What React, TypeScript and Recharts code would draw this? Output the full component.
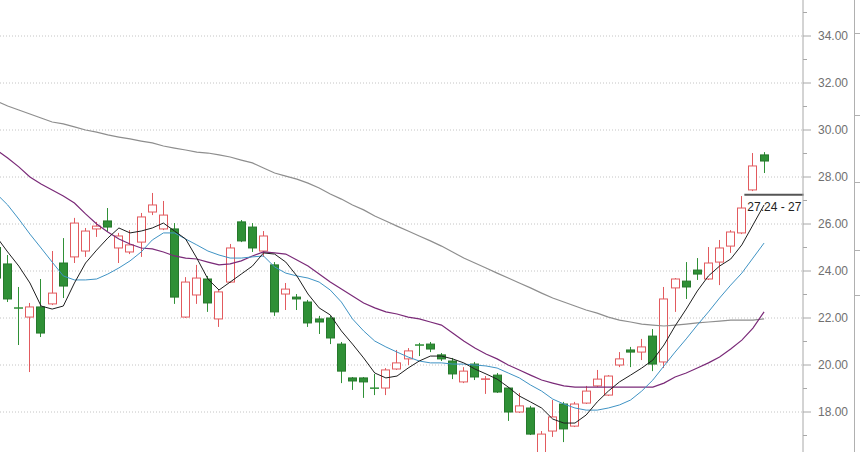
import React from "react";
import { ComposedChart, Bar, Line, XAxis, YAxis, CartesianGrid, ReferenceLine } from "recharts";

// first entry = partially hidden session at the left edge
const opens = [25.0, 24.30, 22.45, 22.04, 22.47, 22.60, 24.34, 24.60, 24.85, 25.79, 26.13, 24.98, 24.81, 25.23, 26.51, 25.79, 25.79, 22.04, 22.98, 23.66, 21.96, 23.53, 26.09, 25.87, 24.85, 24.26, 23.02, 22.89, 22.68, 21.96, 22.00, 20.89, 19.45, 19.45, 19.03, 19.02, 19.83, 20.26, 20.87, 20.89, 20.43, 20.17, 19.28, 20.04, 19.38, 19.57, 19.02, 18.00, 18.17, 16.10, 17.19, 18.34, 17.40, 18.38, 19.11, 18.72, 20.00, 20.64, 20.55, 21.23, 20.13, 23.28, 23.57, 24.04, 23.66, 24.38, 25.06, 25.62, 27.45, 28.94];
const highs = [25.2, 24.68, 23.32, 22.64, 23.66, 24.85, 25.40, 26.26, 25.83, 26.09, 26.68, 25.62, 25.74, 26.47, 27.32, 26.98, 26.04, 23.74, 24.26, 23.79, 23.19, 25.15, 26.17, 26.04, 25.70, 24.38, 23.49, 23.02, 22.77, 22.09, 22.09, 20.98, 19.49, 19.49, 19.62, 19.87, 20.64, 20.72, 20.94, 20.98, 20.51, 20.30, 19.91, 20.13, 19.53, 19.66, 19.06, 18.81, 18.26, 17.19, 18.51, 18.43, 18.43, 19.11, 19.79, 19.57, 20.55, 20.77, 21.11, 21.53, 23.32, 23.70, 24.38, 24.55, 25.02, 25.32, 25.74, 27.19, 29.02, 29.06];
const lows = [23.5, 22.68, 20.85, 19.70, 21.19, 22.55, 22.85, 24.34, 24.60, 25.45, 25.66, 24.34, 24.72, 24.60, 26.38, 25.74, 22.60, 22.00, 22.60, 22.26, 21.62, 23.49, 25.23, 24.81, 24.60, 22.09, 22.34, 22.34, 21.62, 21.32, 20.89, 19.23, 18.94, 18.60, 18.72, 18.72, 19.79, 20.00, 20.38, 20.55, 20.17, 19.40, 19.23, 19.36, 18.77, 18.81, 17.62, 17.96, 17.02, 15.90, 16.94, 16.72, 17.36, 18.34, 19.06, 18.68, 19.91, 19.91, 20.21, 19.74, 19.87, 22.26, 22.81, 23.62, 23.62, 23.40, 24.77, 25.57, 27.40, 28.17];
const closes = [23.7, 22.81, 22.40, 22.47, 21.36, 23.06, 23.36, 26.04, 25.70, 25.91, 25.87, 25.49, 25.11, 26.30, 26.81, 26.38, 22.89, 23.53, 23.70, 22.64, 23.11, 24.98, 25.28, 24.98, 25.49, 22.26, 23.23, 22.81, 21.79, 21.83, 21.15, 19.74, 19.32, 19.28, 19.00, 19.79, 20.09, 20.60, 20.83, 20.68, 20.26, 19.62, 19.74, 19.49, 19.42, 18.85, 18.00, 18.26, 17.06, 17.06, 17.79, 17.28, 18.34, 18.89, 19.40, 19.53, 20.26, 20.55, 20.77, 20.04, 22.81, 23.66, 23.32, 23.87, 24.34, 24.98, 25.66, 26.68, 28.47, 28.68];

const ma5 = [25.45, 24.81, 24.21, 23.49, 22.51, 22.38, 22.51, 23.49, 24.34, 24.89, 25.40, 25.83, 25.62, 25.70, 25.83, 26.04, 25.70, 25.36, 24.55, 23.66, 23.19, 23.53, 23.87, 24.21, 24.77, 24.72, 24.38, 23.79, 23.02, 22.43, 22.13, 21.45, 20.89, 20.30, 19.66, 19.45, 19.53, 19.87, 20.17, 20.38, 20.38, 20.26, 20.09, 19.83, 19.62, 19.40, 19.06, 18.68, 18.43, 18.17, 17.70, 17.53, 17.53, 17.87, 18.43, 18.89, 19.28, 19.57, 19.87, 20.21, 20.85, 21.66, 22.38, 23.15, 23.79, 24.21, 24.51, 25.11, 25.96, 26.81];
const ma10 = [27.28, 26.81, 26.21, 25.57, 24.98, 24.38, 23.79, 23.62, 23.62, 23.66, 23.87, 24.13, 24.43, 24.81, 25.32, 25.62, 25.62, 25.36, 25.11, 24.85, 24.68, 24.55, 24.55, 24.60, 24.64, 24.17, 23.91, 23.79, 23.70, 23.53, 23.19, 22.68, 21.96, 21.45, 21.02, 20.77, 20.55, 20.34, 20.17, 20.09, 20.09, 20.04, 20.04, 20.00, 19.96, 19.87, 19.66, 19.45, 19.15, 18.89, 18.55, 18.34, 18.17, 18.08, 18.08, 18.17, 18.30, 18.51, 18.89, 19.36, 19.96, 20.55, 21.11, 21.70, 22.26, 22.85, 23.40, 23.91, 24.55, 25.19];
const ma20 = [29.15, 28.81, 28.43, 28.00, 27.70, 27.45, 27.19, 26.89, 26.43, 26.00, 25.66, 25.36, 25.15, 24.98, 24.94, 24.81, 24.64, 24.55, 24.51, 24.38, 24.26, 24.30, 24.43, 24.64, 24.81, 24.77, 24.72, 24.47, 24.21, 23.87, 23.53, 23.23, 22.94, 22.64, 22.43, 22.26, 22.17, 22.04, 21.96, 21.83, 21.70, 21.36, 21.02, 20.72, 20.47, 20.26, 20.00, 19.79, 19.57, 19.36, 19.23, 19.11, 19.06, 19.06, 19.06, 19.06, 19.06, 19.06, 19.06, 19.06, 19.23, 19.49, 19.66, 19.87, 20.09, 20.34, 20.68, 21.06, 21.57, 22.26];
const ma60 = [31.23, 31.02, 30.85, 30.68, 30.51, 30.34, 30.26, 30.13, 30.00, 29.91, 29.79, 29.70, 29.62, 29.53, 29.45, 29.32, 29.23, 29.15, 29.06, 29.02, 28.94, 28.85, 28.72, 28.60, 28.38, 28.17, 28.04, 27.91, 27.74, 27.53, 27.28, 27.06, 26.81, 26.60, 26.34, 26.13, 25.91, 25.70, 25.49, 25.28, 25.06, 24.81, 24.55, 24.34, 24.13, 23.91, 23.70, 23.49, 23.28, 23.06, 22.85, 22.68, 22.51, 22.34, 22.21, 22.04, 21.91, 21.83, 21.74, 21.70, 21.66, 21.70, 21.74, 21.79, 21.83, 21.87, 21.91, 21.91, 21.91, 21.96];

const gridValues = [18, 20, 22, 24, 26, 28, 30, 32, 34];
const axisTicks = [17, 18, 19, 20, 21, 22, 23, 24, 25, 26, 27, 28, 29, 30, 31, 32, 33, 34, 35];
const levelValue = 27.24;
const levelText = "27.24 - 27";
const levelStart = 66.8;
const levelEnd = 72.05;

const RED = "#e25a5e";
const GREEN = "#2f9036";
const GREEN_EDGE = "#26782c";
const SLOTS = 73;

const data = Array.from({ length: SLOTS }, (_, k) => {
  const has = k < opens.length;
  return {
    cat: "s" + k,
    range: has ? [lows[k], highs[k]] : null,
    open: has ? opens[k] : null,
    high: has ? highs[k] : null,
    low: has ? lows[k] : null,
    close: has ? closes[k] : null,
    ma5: k < ma5.length ? ma5[k] : null,
    ma10: k < ma10.length ? ma10[k] : null,
    ma20: k < ma20.length ? ma20[k] : null,
    ma60: k < ma60.length ? ma60[k] : null,
  };
});

function Candle(props: any) {
  const { x, y, width, height, payload } = props;
  if (!payload || payload.high == null || !isFinite(y) || !isFinite(height) || !isFinite(x)) return null;
  const { open, close, high, low } = payload;
  const top = Math.min(y, y + height);
  const span = Math.abs(height);
  const k = span / (high - low);
  const py = (v: number) => top + (high - v) * k;
  const cx = Math.floor(x + width / 2) + 0.5;
  const up = close >= open;
  const color = up ? RED : GREEN;
  const bTop = py(Math.max(open, close));
  const bBot = py(Math.min(open, close));
  const doji = bBot - bTop < 1.5;
  return (
    <g>
      <line x1={cx} x2={cx} y1={py(high)} y2={py(low)} stroke={color} strokeWidth={1} />
      {doji ? (
        <line x1={cx - 4.5} x2={cx + 4.5} y1={(bTop + bBot) / 2} y2={(bTop + bBot) / 2} stroke={color} strokeWidth={1.5} />
      ) : up ? (
        <rect x={cx - 4} y={bTop} width={8} height={bBot - bTop} fill="#ffffff" stroke={RED} strokeWidth={1} />
      ) : (
        <rect x={cx - 4} y={bTop} width={8} height={bBot - bTop} fill={GREEN} stroke={GREEN_EDGE} strokeWidth={1} />
      )}
    </g>
  );
}

function AxisTick(props: any) {
  const { x, y, payload } = props;
  const v = payload.value as number;
  const major = v % 2 === 0;
  return (
    <g>
      <line x1={x} x2={x + (major ? 8 : 4)} y1={y} y2={y} stroke="#a8a8a8" strokeWidth={1} />
      {major && (
        <text x={x + 15} y={y} dy={4} fontSize={12} fill="#707070" fontFamily="'Liberation Sans', Arial, sans-serif" textAnchor="start">
          {v.toFixed(2)}
        </text>
      )}
    </g>
  );
}

function LevelLabel(props: any) {
  const vb = props.viewBox || {};
  const x = vb.x ?? 0;
  const y = vb.y ?? 0;
  return (
    <text x={x + 3} y={y + 16.5} fontSize={12} fill="#222" fontFamily="'Liberation Sans', Arial, sans-serif">
      {levelText}
    </text>
  );
}

const panelMarks = [33, 115, 182, 250, 295];

export default function App() {
  return (
    <div style={{ position: "fixed", left: 0, top: 0, width: 860, height: 452, overflow: "hidden", background: "#ffffff" }}>
      <div style={{ position: "absolute", left: -9, top: 0 }}>
        <ComposedChart width={869} height={452} data={data} margin={{ top: 0, right: 0, bottom: 0, left: 0 }}>
          <CartesianGrid vertical={false} horizontalValues={gridValues} stroke="#c4c4c4" strokeDasharray="1 2" />
          <XAxis dataKey="cat" hide />
          <XAxis xAxisId="n" type="number" domain={[-1.5, 71.5]} allowDataOverflow padding={{ left: 0, right: 0 }} hide />
          <YAxis
            orientation="right"
            width={57}
            domain={[16.298, 35.532]}
            allowDataOverflow
            ticks={axisTicks}
            interval={0}
            tick={<AxisTick />}
            tickLine={false}
            tickSize={0}
            tickMargin={0}
            axisLine={{ stroke: "#a8a8a8" }}
          />
          <Line dataKey="ma60" stroke="#8e8e8e" strokeWidth={1.2} dot={false} activeDot={false} isAnimationActive={false} />
          <Line dataKey="ma20" stroke="#7a2a78" strokeWidth={1.2} dot={false} activeDot={false} isAnimationActive={false} />
          <Line dataKey="ma10" stroke="#3f93c4" strokeWidth={1} dot={false} activeDot={false} isAnimationActive={false} />
          <Line dataKey="ma5" stroke="#1e1e1e" strokeWidth={1} dot={false} activeDot={false} isAnimationActive={false} />
          <Bar dataKey="range" barSize={9} isAnimationActive={false} shape={(p: any) => <Candle {...p} />} />
          <ReferenceLine
            xAxisId="n"
            segment={[{ x: levelStart, y: levelValue }, { x: levelEnd, y: levelValue }]}
            stroke="#555555"
            strokeWidth={2}
            ifOverflow="visible"
            label={(p: any) => <LevelLabel {...p} />}
          />
        </ComposedChart>
      </div>
      <div style={{ position: "absolute", left: 854, top: 0, width: 1, height: 452, background: "#b0b0b0" }} />
      {panelMarks.map((t) => (
        <div key={t} style={{ position: "absolute", left: 854, top: t, width: 6, height: 1, background: "#b0b0b0" }} />
      ))}
    </div>
  );
}
